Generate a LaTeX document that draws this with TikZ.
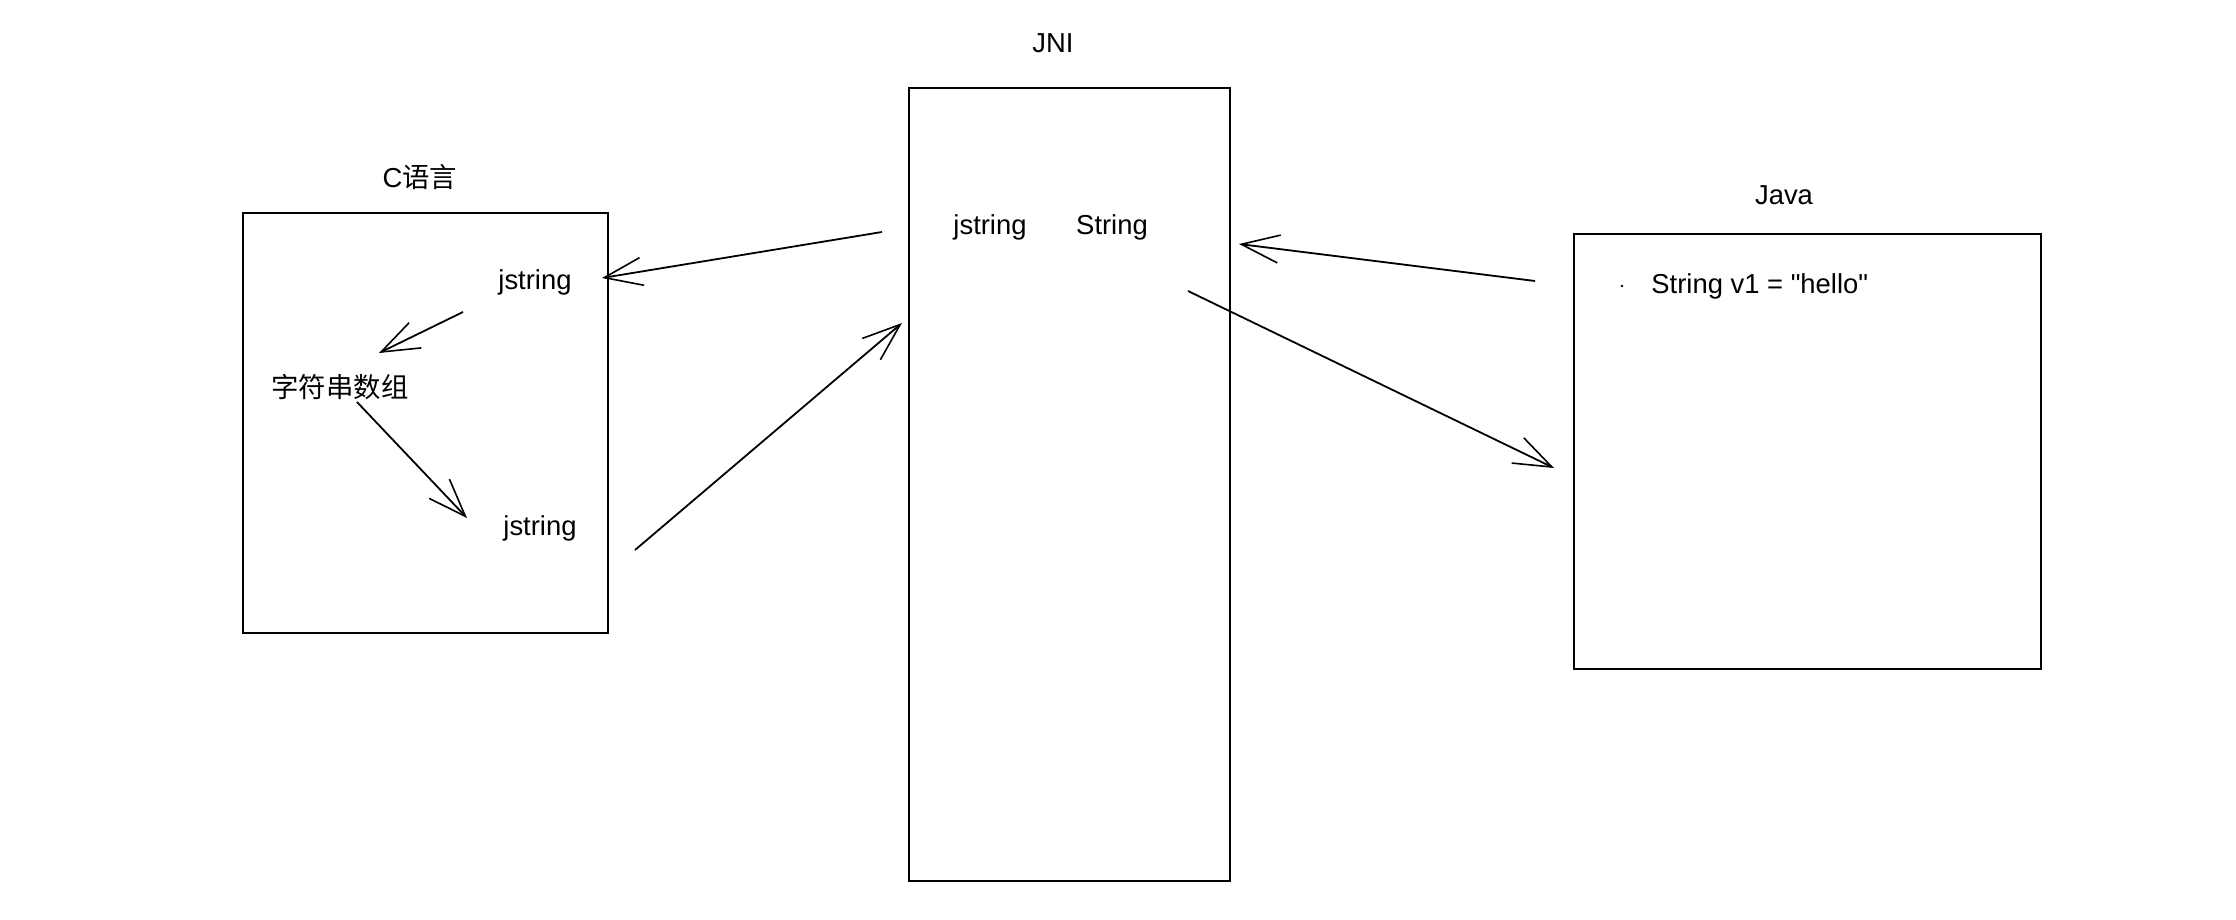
\documentclass[tikz,border=0pt]{standalone}
\usepackage{fontspec}
\setmainfont{Liberation Sans}[Ligatures=TeXOff]
\newfontfamily\cjk{Noto Sans CJK SC}
\usetikzlibrary{arrows.meta}
\begin{document}
\begin{tikzpicture}[x=0.5pt,y=-0.5pt,
  lbl/.style={inner sep=0pt,font=\fontsize{13.7pt}{16pt}\selectfont},
  panel/.style={draw=black,line width=0.9pt},
  conn/.style={draw=black,line width=0.9pt,-{Straight Barb[length=19pt,width=14pt,line width=0.8pt]}}]
\useasboundingbox[fill=white] (0,0) rectangle (2236,920);
% panels
\draw[panel] (243,213) rectangle (608,633);
\draw[panel] (909,88) rectangle (1230,881);
\draw[panel] (1574,234) rectangle (2041,669);
% titles
\node[lbl] (ctitle) at (420,177) {C{\cjk 语言}};
\node[lbl] (jnititle) at (1053,43) {JNI};
\node[lbl] (javatitle) at (1784,195) {Java};
% texts
\node[lbl] (cj1) at (535,282) {jstring};
\node[lbl] (arr) at (340,387) {\cjk 字符串数组};
\node[lbl] (cj2) at (540,528) {jstring};
\node[lbl] (jj) at (990,227) {jstring};
\node[lbl] (js) at (1112,227) {String};
\node[lbl,anchor=west] (jv) at (1651,286) {String v1 = "hello"};
\fill (1622,286) circle (1.3);
% connector endpoints
\coordinate (a1s) at (463,312); \coordinate (a1e) at (379,353);
\coordinate (a2s) at (357,402); \coordinate (a2e) at (467,518);
\coordinate (a3s) at (882,232); \coordinate (a3e) at (602,278);
\coordinate (a4s) at (635,550); \coordinate (a4e) at (902,323);
\coordinate (a5s) at (1535,281); \coordinate (a5e) at (1239,244);
\coordinate (a6s) at (1188,291); \coordinate (a6e) at (1554,468);
\draw[conn] (a1s) -- (a1e);
\draw[conn] (a2s) -- (a2e);
\draw[conn] (a3s) -- (a3e);
\draw[conn] (a4s) -- (a4e);
\draw[conn] (a5s) -- (a5e);
\draw[conn] (a6s) -- (a6e);
\end{tikzpicture}
\end{document}
